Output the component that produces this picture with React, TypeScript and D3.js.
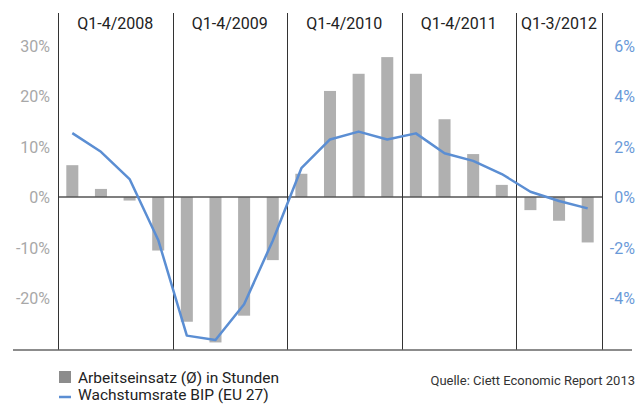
import React, { useEffect, useRef } from 'react';
import * as d3 from 'd3';

const quarters = [
  '2008Q1', '2008Q2', '2008Q3', '2008Q4',
  '2009Q1', '2009Q2', '2009Q3', '2009Q4',
  '2010Q1', '2010Q2', '2010Q3', '2010Q4',
  '2011Q1', '2011Q2', '2011Q3', '2011Q4',
  '2012Q1', '2012Q2', '2012Q3',
];
const hours = [6.3, 1.6, -0.7, -10.6, -24.7, -28.8, -23.5, -12.5, 4.6, 21.0, 24.4, 27.7, 24.4, 15.4, 8.5, 2.4, -2.6, -4.7, -9.0];
const gdp = [2.53, 1.79, 0.71, -1.7, -5.49, -5.66, -4.25, -1.73, 1.14, 2.28, 2.59, 2.28, 2.52, 1.73, 1.43, 0.91, 0.21, -0.16, -0.45];
const yearLabels = ['Q1-4/2008', 'Q1-4/2009', 'Q1-4/2010', 'Q1-4/2011', 'Q1-3/2012'];
const yearCounts = [4, 4, 4, 4, 3];
const leftTicks = [30, 20, 10, 0, -10, -20];
const rightTicks = [6, 4, 2, 0, -2, -4];

const FONT = 'Roboto, "DejaVu Sans", sans-serif';

const App = () => {
  const ref = useRef(null);

  useEffect(() => {
    if (!ref.current) return;
    d3.select(ref.current).selectAll('*').remove();

    const W = 639;
    const H = 405;
    const left = 58;
    const right = 602;
    const top = 13;
    const bottom = 350;

    const svg = d3.select(ref.current)
      .append('svg')
      .attr('width', W)
      .attr('height', H)
      .style('display', 'block')
      .style('font-family', FONT);

    const x = d3.scaleBand()
      .domain(quarters)
      .range([left, right])
      .paddingInner(0.58)
      .paddingOuter(0.29);

    const yL = d3.scaleLinear().domain([-30, 30]).range([348.5, 45.5]);
    const yR = d3.scaleLinear().domain([-6, 6]).range([348.5, 45.5]);

    // bars
    svg.selectAll('.bar')
      .data(hours)
      .enter()
      .append('rect')
      .attr('x', (d, i) => x(quarters[i]))
      .attr('width', x.bandwidth())
      .attr('y', d => yL(Math.max(0, d)))
      .attr('height', d => Math.abs(yL(d) - yL(0)))
      .attr('fill', '#b0b0b0');

    // zero line
    svg.append('line')
      .attr('x1', left).attr('x2', right)
      .attr('y1', yL(0)).attr('y2', yL(0))
      .attr('stroke', '#555').attr('stroke-width', 1.5);

    // year separators, one step per quarter
    const step = x.step();
    const bx = yearCounts.reduce((acc, c) => { acc.push(acc[acc.length - 1] + c * step); return acc; }, [left]);

    bx.forEach(b => {
      svg.append('line')
        .attr('x1', Math.round(b) + 0.5).attr('x2', Math.round(b) + 0.5)
        .attr('y1', top).attr('y2', bottom)
        .attr('stroke', '#333').attr('stroke-width', 1);
    });

    yearLabels.forEach((t, i) => {
      svg.append('text')
        .attr('x', (bx[i] + bx[i + 1]) / 2)
        .attr('y', 29)
        .attr('text-anchor', 'middle')
        .style('font-size', '16px')
        .style('fill', '#222')
        .text(t);
    });

    // bottom line
    svg.append('line')
      .attr('x1', 13).attr('x2', 632)
      .attr('y1', bottom).attr('y2', bottom)
      .attr('stroke', '#666').attr('stroke-width', 1.5);

    // line
    const line = d3.line()
      .x((d, i) => x(quarters[i]) + x.bandwidth() / 2)
      .y(d => yR(d));

    svg.append('path')
      .datum(gdp)
      .attr('d', line)
      .attr('fill', 'none')
      .attr('stroke', '#5b8ed3')
      .attr('stroke-width', 2.5)
      .attr('stroke-linejoin', 'round');

    // left ticks
    svg.selectAll('.lt')
      .data(leftTicks)
      .enter()
      .append('text')
      .attr('x', 50)
      .attr('y', d => yL(d) + 6)
      .attr('text-anchor', 'end')
      .style('font-size', '16px')
      .style('fill', '#a8a8a8')
      .text(d => `${d}%`);

    // right ticks
    svg.selectAll('.rt')
      .data(rightTicks)
      .enter()
      .append('text')
      .attr('x', 635)
      .attr('y', d => yR(d) + 6)
      .attr('text-anchor', 'end')
      .style('font-size', '16px')
      .style('fill', '#6a9ad8')
      .text(d => `${d}%`);

    // legend
    svg.append('rect')
      .attr('x', 59).attr('y', 371)
      .attr('width', 12).attr('height', 12)
      .attr('fill', '#8c8c8c');
    svg.append('text')
      .attr('x', 78).attr('y', 383)
      .style('font-size', '15.5px')
      .style('fill', '#222')
      .text('Arbeitseinsatz (Ø) in Stunden');

    svg.append('line')
      .attr('x1', 59).attr('x2', 71)
      .attr('y1', 397).attr('y2', 397)
      .attr('stroke', '#5b8ed3').attr('stroke-width', 2.5);
    svg.append('text')
      .attr('x', 78).attr('y', 400)
      .style('font-size', '15.5px')
      .style('fill', '#222')
      .text('Wachstumsrate BIP (EU 27)');

    svg.append('text')
      .attr('x', 635).attr('y', 385)
      .attr('text-anchor', 'end')
      .style('font-size', '13px')
      .style('fill', '#333')
      .text('Quelle: Ciett Economic Report 2013');

    return () => {};
  }, []);

  return <div ref={ref} style={{ position: 'absolute', left: 0, top: 0, width: 639, height: 405 }}></div>;
};

export default App;
